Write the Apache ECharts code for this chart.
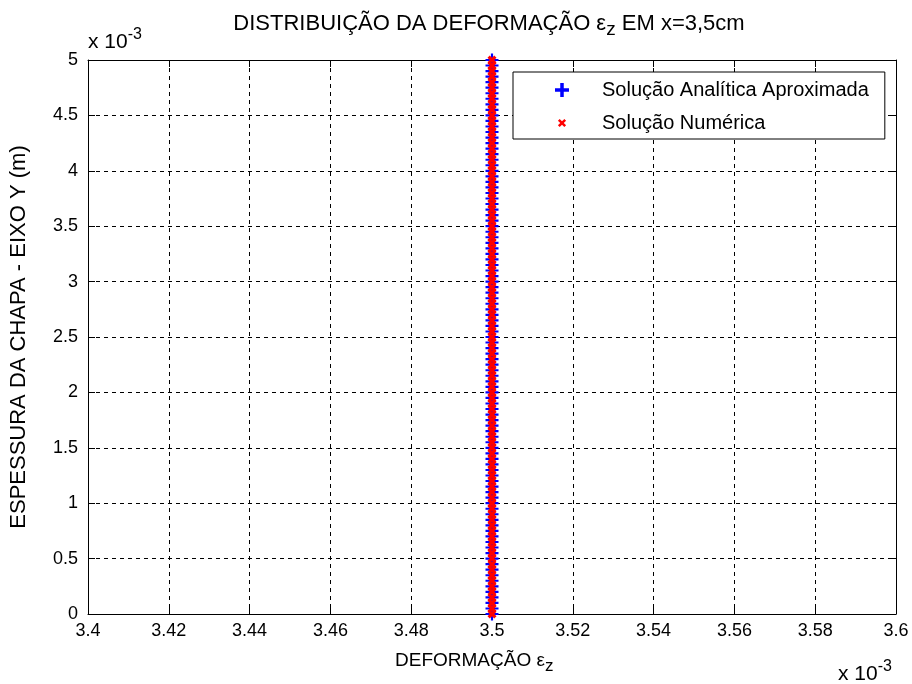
<!DOCTYPE html>
<html>
<head>
<meta charset="utf-8">
<script src="https://cdn.jsdelivr.net/npm/echarts@6/dist/echarts.min.js"></script>
<style>
  html, body { margin: 0; padding: 0; background: #fff; }
  #chart { width: 912px; height: 684px; }
</style>
</head>
<body>
<div id="chart"></div>
<script>
// Espessura da chapa (eixo Y), em unidades de 1e-3 m
const espessura = [
  0, 0.05, 0.1, 0.15, 0.2, 0.25, 0.3, 0.35, 0.4, 0.45,
  0.5, 0.55, 0.6, 0.65, 0.7, 0.75, 0.8, 0.85, 0.9, 0.95,
  1, 1.05, 1.1, 1.15, 1.2, 1.25, 1.3, 1.35, 1.4, 1.45,
  1.5, 1.55, 1.6, 1.65, 1.7, 1.75, 1.8, 1.85, 1.9, 1.95,
  2, 2.05, 2.1, 2.15, 2.2, 2.25, 2.3, 2.35, 2.4, 2.45,
  2.5, 2.55, 2.6, 2.65, 2.7, 2.75, 2.8, 2.85, 2.9, 2.95,
  3, 3.05, 3.1, 3.15, 3.2, 3.25, 3.3, 3.35, 3.4, 3.45,
  3.5, 3.55, 3.6, 3.65, 3.7, 3.75, 3.8, 3.85, 3.9, 3.95,
  4, 4.05, 4.1, 4.15, 4.2, 4.25, 4.3, 4.35, 4.4, 4.45,
  4.5, 4.55, 4.6, 4.65, 4.7, 4.75, 4.8, 4.85, 4.9, 4.95,
  5
];

// Deformação εz (unidades de 1e-3), solução analítica aproximada
const defAnalitica = [
  3.5, 3.5, 3.5, 3.5, 3.5, 3.5, 3.5, 3.5, 3.5, 3.5,
  3.5, 3.5, 3.5, 3.5, 3.5, 3.5, 3.5, 3.5, 3.5, 3.5,
  3.5, 3.5, 3.5, 3.5, 3.5, 3.5, 3.5, 3.5, 3.5, 3.5,
  3.5, 3.5, 3.5, 3.5, 3.5, 3.5, 3.5, 3.5, 3.5, 3.5,
  3.5, 3.5, 3.5, 3.5, 3.5, 3.5, 3.5, 3.5, 3.5, 3.5,
  3.5, 3.5, 3.5, 3.5, 3.5, 3.5, 3.5, 3.5, 3.5, 3.5,
  3.5, 3.5, 3.5, 3.5, 3.5, 3.5, 3.5, 3.5, 3.5, 3.5,
  3.5, 3.5, 3.5, 3.5, 3.5, 3.5, 3.5, 3.5, 3.5, 3.5,
  3.5, 3.5, 3.5, 3.5, 3.5, 3.5, 3.5, 3.5, 3.5, 3.5,
  3.5, 3.5, 3.5, 3.5, 3.5, 3.5, 3.5, 3.5, 3.5, 3.5,
  3.5
];

// Deformação εz (unidades de 1e-3), solução numérica
const defNumerica = [
  3.5, 3.5, 3.5, 3.5, 3.5, 3.5, 3.5, 3.5, 3.5, 3.5,
  3.5, 3.5, 3.5, 3.5, 3.5, 3.5, 3.5, 3.5, 3.5, 3.5,
  3.5, 3.5, 3.5, 3.5, 3.5, 3.5, 3.5, 3.5, 3.5, 3.5,
  3.5, 3.5, 3.5, 3.5, 3.5, 3.5, 3.5, 3.5, 3.5, 3.5,
  3.5, 3.5, 3.5, 3.5, 3.5, 3.5, 3.5, 3.5, 3.5, 3.5,
  3.5, 3.5, 3.5, 3.5, 3.5, 3.5, 3.5, 3.5, 3.5, 3.5,
  3.5, 3.5, 3.5, 3.5, 3.5, 3.5, 3.5, 3.5, 3.5, 3.5,
  3.5, 3.5, 3.5, 3.5, 3.5, 3.5, 3.5, 3.5, 3.5, 3.5,
  3.5, 3.5, 3.5, 3.5, 3.5, 3.5, 3.5, 3.5, 3.5, 3.5,
  3.5, 3.5, 3.5, 3.5, 3.5, 3.5, 3.5, 3.5, 3.5, 3.5,
  3.5
];

const nomesSeries = ['Solução Analítica Aproximada', 'Solução Numérica'];

// Faixas dos eixos (unidades de 1e-3)
const eixoX = { min: 3.4, max: 3.6, interval: 0.02 };
const eixoY = { min: 0, max: 5, interval: 0.5 };

const FONT = '"Liberation Sans", Arial, sans-serif';
const FS = 18;

// Marcadores: "+" e "x"
const plusPath = 'path://M5,0H7V5H12V7H7V12H5V7H0V5H5Z';
const plusLegendPath = 'path://M4.5,0H7.5V4.5H12V7.5H7.5V12H4.5V7.5H0V4.5H4.5Z';
const crossPath = 'path://M0,3L3,0L6,3L9,0L12,3L9,6L12,9L9,12L6,9L3,12L0,9L3,6Z';
// mesmo "x", centrado numa caixa maior para o ícone da legenda ficar pequeno
const crossLegendPath = 'path://M0,0L0.01,0L0,0.01Z M24,24L23.99,24L24,23.99Z ' +
  'M5,8L8,5L12,9L16,5L19,8L15,12L19,16L16,19L12,15L8,19L5,16L9,12Z';

const pares = (xs, ys) => xs.map((x, i) => [x, ys[i]]);

const chart = echarts.init(document.getElementById('chart'), null, { renderer: 'canvas' });

const grid = { left: 88, top: 60, right: 16, bottom: 70, containLabel: false };

const axisCommon = {
  axisLine: { show: true, onZero: false, lineStyle: { color: '#000', width: 1 } },
  axisTick: { show: true, inside: true, length: 7, lineStyle: { color: '#000', width: 1 } },
  axisLabel: { color: '#000', fontFamily: FONT, fontSize: FS },
  splitLine: { show: true, lineStyle: { color: '#000', width: 1, type: [4, 4] } }
};

chart.setOption({
  animation: false,
  backgroundColor: '#fff',
  title: {
    text: 'DISTRIBUIÇÃO DA DEFORMAÇÃO ε{sub|z} EM x=3,5cm',
    left: 484,
    top: 3,
    textAlign: 'center',
    textStyle: {
      color: '#000', fontFamily: FONT, fontSize: 22, fontWeight: 'normal',
      rich: { sub: { fontFamily: FONT, fontSize: 19, color: '#000', padding: [12, 0, 0, 0] } }
    }
  },
  grid: grid,
  legend: {
    orient: 'vertical',
    left: 513,
    top: 72,
    padding: [8, 16, 6, 42],
    itemWidth: 70,
    itemHeight: 14,
    itemGap: 13,
    backgroundColor: '#fff',
    borderColor: '#000',
    borderWidth: 1,
    borderRadius: 0,
    textStyle: { color: '#000', fontFamily: FONT, fontSize: 20 },
    data: [
      { name: nomesSeries[0], icon: plusLegendPath },
      { name: nomesSeries[1], icon: crossLegendPath }
    ]
  },
  xAxis: [
    Object.assign({}, axisCommon, {
      type: 'value', position: 'bottom',
      min: eixoX.min, max: eixoX.max, interval: eixoX.interval,
      axisLabel: Object.assign({}, axisCommon.axisLabel, { margin: 8 })
    }),
    Object.assign({}, axisCommon, {
      type: 'value', position: 'top',
      min: eixoX.min, max: eixoX.max, interval: eixoX.interval,
      axisLabel: { show: false }, splitLine: { show: false }
    })
  ],
  yAxis: [
    Object.assign({}, axisCommon, {
      type: 'value', position: 'left',
      min: eixoY.min, max: eixoY.max, interval: eixoY.interval,
      axisLabel: Object.assign({}, axisCommon.axisLabel, { margin: 10 }),
      name: 'ESPESSURA DA CHAPA - EIXO Y (m)',
      nameLocation: 'middle',
      nameGap: 58,
      nameTextStyle: { color: '#000', fontFamily: FONT, fontSize: 22 }
    }),
    Object.assign({}, axisCommon, {
      type: 'value', position: 'right',
      min: eixoY.min, max: eixoY.max, interval: eixoY.interval,
      axisLabel: { show: false }, splitLine: { show: false }
    })
  ],
  series: [
    {
      name: nomesSeries[0],
      type: 'scatter',
      xAxisIndex: 0, yAxisIndex: 0,
      symbol: plusPath,
      symbolSize: 13,
      itemStyle: { color: '#0000ff', opacity: 1 },
      data: pares(defAnalitica, espessura)
    },
    {
      name: nomesSeries[1],
      type: 'scatter',
      xAxisIndex: 0, yAxisIndex: 0,
      symbol: crossPath,
      symbolSize: 9,
      itemStyle: { color: '#ff0000', opacity: 1 },
      data: pares(defNumerica, espessura)
    }
  ],
  graphic: [
    {
      type: 'text', left: 88, top: 27,
      style: {
        text: 'x 10{sup|-3}', fill: '#000',
        font: '21px ' + FONT,
        rich: { sup: { fontFamily: FONT, fontSize: 16, fill: '#000', padding: [0, 0, 14, 0] } }
      }
    },
    {
      type: 'text', left: 838, top: 659,
      style: {
        text: 'x 10{sup|-3}', fill: '#000',
        font: '21px ' + FONT,
        rich: { sup: { fontFamily: FONT, fontSize: 16, fill: '#000', padding: [0, 0, 14, 0] } }
      }
    },
    {
      type: 'text', left: 395, top: 651,
      style: {
        text: 'DEFORMAÇÃO ε{sub|z}', fill: '#000',
        font: '19px ' + FONT,
        rich: { sub: { fontFamily: FONT, fontSize: 17, fill: '#000', padding: [11, 0, 0, 0] } }
      }
    }
  ]
});
</script>
</body>
</html>
